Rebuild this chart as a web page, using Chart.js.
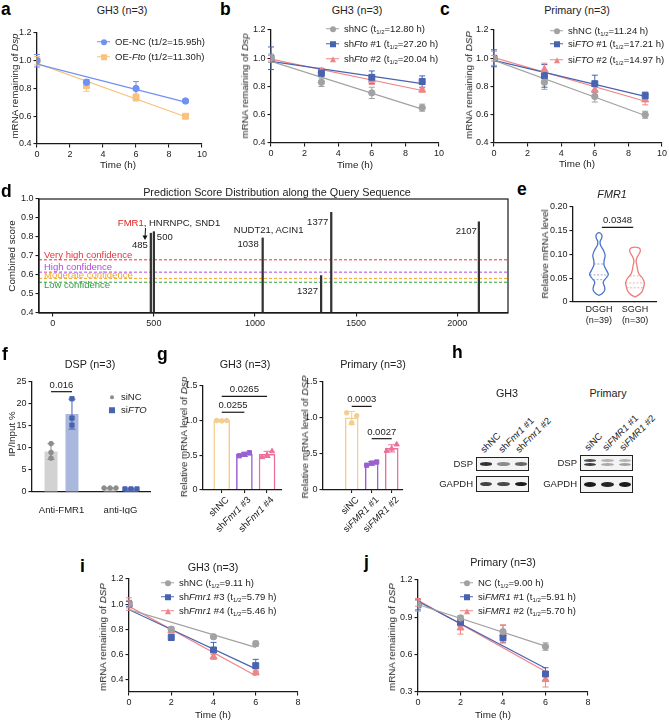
<!DOCTYPE html>
<html lang="en">
<head>
<meta charset="UTF-8">
<meta name="viewport" content="width=device-width, initial-scale=1.0">
<title>FMR1 and DSP mRNA decay</title>
<script src="https://cdn.jsdelivr.net/npm/chart.js"></script>
<style>
    body { margin: 0; background: #fff; }
    #fig { position: relative; width: 669px; height: 720px; overflow: hidden;
           font-family: 'Liberation Sans', Arial, sans-serif; color: #222; }
    #fig canvas { position: absolute; }
    .t { position: absolute; white-space: nowrap; line-height: 1; font-size: 9.5px; }
    .letter { font-weight: bold; font-size: 17.5px; color: #000; }
    .title { font-size: 10.8px; }
    .ax { font-size: 9.8px; }
    .t sub, .lg sub { font-size: 6px; vertical-align: -1.5px; line-height: 0; }
    .lg { position: absolute; display: flex; align-items: center; white-space: nowrap;
          font-size: 9.5px; line-height: 1; transform: translateY(-50%); }
    .sym { position: relative; width: 13px; height: 8px; margin-right: 5px; flex: none; }
    .sym .ln { position: absolute; left: 0; right: 0; top: 3.4px; height: 1.2px; }
    .sym .mk { position: absolute; left: 50%; top: 50%; transform: translate(-50%, -50%); }
    .mk.circle { width: 6px; height: 6px; border-radius: 50%; }
    .mk.small { width: 4px; height: 4px; }
    .mk.rect { width: 6px; height: 6px; }
    .mk.triangle { width: 0; height: 0; border-left: 3.6px solid transparent; border-right: 3.6px solid transparent;
                   border-bottom: 6.5px solid var(--c); background: none !important; }
    .blot { position: absolute; border: 1px solid #222; background: #f3f3f3; box-sizing: border-box; overflow: hidden; }
    .band { position: absolute; border-radius: 50%; filter: blur(0.7px); }
</style>
</head>
<body>
<div id="fig"></div>
<script>
    // ---------- data ----------
    // a-c: mRNA decay, time in h
    const timeABC = [0, 3, 6, 9];
    const aNC = [1.00, 0.845, 0.80, 0.71];
    const aNCErr = [0.045, 0.02, 0.05, 0.012];
    const aFto = [1.00, 0.82, 0.735, 0.60];
    const aFtoErr = [0.03, 0.04, 0.025, 0.01];

    const bNC = [1.00, 0.83, 0.755, 0.65];
    const bNCErr = [0.03, 0.03, 0.04, 0.025];
    const bFto1 = [1.00, 0.895, 0.865, 0.835];
    const bFto1Err = [0.08, 0.025, 0.045, 0.04];
    const bFto2 = [1.00, 0.91, 0.845, 0.775];
    const bFto2Err = [0.02, 0.02, 0.03, 0.015];

    const cNC = [1.00, 0.83, 0.73, 0.60];
    const cNCErr = [0.05, 0.05, 0.04, 0.025];
    const cFTO1 = [1.00, 0.875, 0.82, 0.735];
    const cFTO1Err = [0.06, 0.08, 0.06, 0.025];
    const cFTO2 = [1.00, 0.92, 0.775, 0.705];
    const cFTO2Err = [0.02, 0.045, 0.04, 0.035];

    const decayXTicks = [0, 2, 4, 6, 8, 10];
    const decayYTicks = [0.4, 0.6, 0.8, 1.0, 1.2];

    // d: prediction scores along the query sequence
    const dSites = [485, 500, 1038, 1327, 1377, 2107];
    const dScores = [0.82, 0.828, 0.795, 0.597, 0.93, 0.88];
    const dThresholds = [0.68, 0.615, 0.582, 0.562];
    const dThresholdNames = ['Very high confidence', 'High confidence', 'Moderate confidence', 'Low confidence'];
    const dXTicks = [0, 500, 1000, 1500, 2000];
    const dYTicks = [0.4, 0.5, 0.6, 0.7, 0.8, 0.9, 1.0];

    // e: violin profiles (level, relative density)
    const eGroups = ['DGGH', 'SGGH'];
    const eCounts = ['(n=39)', '(n=30)'];
    const dgghLevels = [0.014, 0.018, 0.025, 0.033, 0.042, 0.05, 0.058, 0.066, 0.077, 0.087, 0.098, 0.108, 0.119, 0.127, 0.134, 0.14, 0.144, 0.146];
    const dgghDensity = [0, 0.35, 0.62, 0.58, 0.45, 0.75, 1.0, 0.82, 0.55, 0.55, 0.66, 0.5, 0.18, 0.12, 0.28, 0.32, 0.2, 0];
    const dgghQuartiles = [0.047, 0.057, 0.08];
    const sgghLevels = [0.0105, 0.015, 0.022, 0.03, 0.04, 0.05, 0.058, 0.066, 0.075, 0.085, 0.093, 0.1, 0.106, 0.111, 0.114, 0.1155];
    const sgghDensity = [0, 0.4, 0.75, 0.9, 1.0, 0.8, 0.45, 0.3, 0.22, 0.12, 0.2, 0.4, 0.55, 0.55, 0.4, 0];
    const sgghQuartiles = [0.03, 0.04, 0.055];
    const eYTicks = [0, 0.05, 0.10, 0.15, 0.20];

    // f: RIP-qPCR
    const fCats = ['Anti-FMR1', 'anti-IgG'];
    const fNC = [9.2, 0.9];
    const fNCErr = [1.8, 0.05];
    const fNCReps = [[11.0, 9.0, 7.7], [0.9, 0.9, 0.9]];
    const fFTO = [17.7, 0.7];
    const fFTOErr = [3.4, 0.05];
    const fFTOReps = [[21.2, 16.8, 15.2], [0.7, 0.7, 0.7]];
    const fYTicks = [0, 5, 10, 15, 20, 25];

    // g: knockdown qPCR
    const gLeftCats = ['shNC', 'sh<i>Fmr1</i> #3', 'sh<i>Fmr1</i> #4'];
    const gLeft = [1.0, 0.51, 0.51];
    const gLeftErr = [0.01, 0.03, 0.045];
    const gLeftReps = [[1.0, 0.995, 1.0], [0.49, 0.51, 0.535], [0.47, 0.50, 0.555]];
    const gRightCats = ['siNC', 'si<i>FMR1</i> #1', 'si<i>FMR1</i> #2'];
    const gRight = [1.0, 0.365, 0.575];
    const gRightErr = [0.09, 0.025, 0.05];
    const gRightReps = [[1.07, 0.93, 1.03], [0.34, 0.37, 0.385], [0.54, 0.57, 0.63]];
    const gYTicks = [0, 0.5, 1.0, 1.5];

    // h: western blot band intensities per lane
    const hLanesGH3 = ['shNC', 'sh<i>Fmr1</i> #1', 'sh<i>Fmr1</i> #2'];
    const hLanesPri = ['siNC', 'si<i>FMR1</i> #1', 'si<i>FMR1</i> #2'];
    const hGH3Dsp = [0.85, 0.45, 0.62];
    const hGH3Gapdh = [0.78, 0.74, 0.95];
    const hPriDspUpper = [0.72, 0.28, 0.28];
    const hPriDspLower = [0.8, 0.32, 0.36];
    const hPriGapdh = [0.95, 0.9, 0.95];

    // i-j: Fmr1 knockdown decay
    const timeIJ = [0, 2, 4, 6];
    const iNC = [1.00, 0.80, 0.74, 0.685];
    const iNCErr = [0.03, 0.02, 0.012, 0.02];
    const iF3 = [1.00, 0.735, 0.635, 0.51];
    const iF3Err = [0.02, 0.025, 0.06, 0.05];
    const iF4 = [1.00, 0.79, 0.58, 0.455];
    const iF4Err = [0.05, 0.02, 0.02, 0.02];
    const jNC = [1.00, 0.895, 0.785, 0.665];
    const jNCErr = [0.05, 0.02, 0.05, 0.03];
    const jF1 = [1.00, 0.86, 0.735, 0.445];
    const jF1Err = [0.04, 0.03, 0.04, 0.05];
    const jF2 = [1.02, 0.815, 0.77, 0.40];
    const jF2Err = [0.03, 0.05, 0.07, 0.06];
    const ijXTicks = [0, 2, 4, 6, 8];
    const iYTicks = [0.4, 0.6, 0.8, 1.0, 1.2];
    const jYTicks = [0.3, 0.6, 0.9, 1.2];

    // ---------- style ----------
    const INK = '#1a1a1a';
    const GRAY = '#a2a2a2';
    const BLUE = '#4863b0';
    const PINK = '#f08585';
    const LBLUE = '#6f91f3';
    const ORANGE = '#f8c27f';
    const G_COLORS = ['#f5cd8f', '#9a5fd2', '#ef6f9a'];
    const D_COLORS = ['#e8323c', '#b04ae0', '#f5a623', '#30a040'];
    const FONT = "'Liberation Sans', Arial, sans-serif";

    Chart.defaults.font.family = FONT;
    Chart.defaults.font.size = 9;
    Chart.defaults.color = '#222';
    Chart.defaults.animation = false;
    Chart.defaults.plugins.legend.display = false;
    Chart.defaults.plugins.tooltip.enabled = false;

    const fig = document.getElementById('fig');
    const pick = (v, j) => Array.isArray(v) ? v[j] : v;

    // ---------- plugins ----------
    function drawErrors(chart, opts) {
        const ctx = chart.ctx, ys = chart.scales.y;
        chart.data.datasets.forEach((ds, i) => {
            if (!ds.errs) return;
            const meta = chart.getDatasetMeta(i);
            ctx.save();
            ctx.lineWidth = opts.width;
            meta.data.forEach((el, j) => {
                const e = ds.errs[j];
                if (!e) return;
                const d = ds.data[j];
                const v = typeof d === 'number' ? d : d.y;
                const y1 = ys.getPixelForValue(v + e), y2 = ys.getPixelForValue(v - e);
                const h = opts.cap / 2;
                ctx.strokeStyle = pick(ds.errColor || ds.borderColor, j);
                ctx.beginPath();
                ctx.moveTo(el.x, y1); ctx.lineTo(el.x, y2);
                ctx.moveTo(el.x - h, y1); ctx.lineTo(el.x + h, y1);
                ctx.moveTo(el.x - h, y2); ctx.lineTo(el.x + h, y2);
                ctx.stroke();
            });
            ctx.restore();
        });
    }
    const errorBars = {
        id: 'errorBars',
        defaults: { cap: 6, above: false, width: 1 },
        beforeDatasetsDraw(chart, args, opts) { if (!opts.above) drawErrors(chart, opts); },
        afterDatasetsDraw(chart, args, opts) { if (opts.above) drawErrors(chart, opts); }
    };

    const repDots = {
        id: 'repDots',
        afterDatasetsDraw(chart) {
            const ctx = chart.ctx, ys = chart.scales.y;
            chart.data.datasets.forEach((ds, i) => {
                if (!ds.reps) return;
                const meta = chart.getDatasetMeta(i);
                meta.data.forEach((el, j) => {
                    const spread = ds.spread ? ds.spread[j] : 0;
                    ds.reps[j].forEach((v, k) => {
                        ctx.save();
                        ctx.fillStyle = pick(ds.dotColor, j);
                        ctx.strokeStyle = pick(ds.dotColor, j);
                        const st = pick(ds.dotStyle, j);
                        Chart.helpers.drawPoint(ctx, { pointStyle: st, radius: st === 'circle' ? 2.3 : 3, rotation: 0, borderWidth: 0.5 },
                            el.x + (k - 1) * spread, ys.getPixelForValue(v));
                        ctx.restore();
                    });
                });
            });
        }
    };

    const brackets = {
        id: 'brackets',
        afterDraw(chart, args, opts) {
            if (!opts.items) return;
            const ctx = chart.ctx, ys = chart.scales.y, xs = chart.scales.x;
            const px = r => Array.isArray(r) ? chart.getDatasetMeta(r[0]).data[r[1]].x : xs.getPixelForValue(r);
            ctx.save();
            ctx.strokeStyle = INK; ctx.fillStyle = '#222'; ctx.lineWidth = 1.2;
            ctx.font = '9.5px ' + FONT;
            ctx.textAlign = 'center'; ctx.textBaseline = 'bottom';
            opts.items.forEach(b => {
                const x1 = px(b.from), x2 = px(b.to), y = ys.getPixelForValue(b.y);
                ctx.beginPath(); ctx.moveTo(x1, y); ctx.lineTo(x2, y); ctx.stroke();
                ctx.fillText(b.text, (x1 + x2) / 2, y - 2);
            });
            ctx.restore();
        }
    };

    const frame = {
        id: 'frame',
        afterDraw(chart, args, opts) {
            if (!opts.on) return;
            const a = chart.chartArea, ctx = chart.ctx;
            ctx.save(); ctx.strokeStyle = INK; ctx.lineWidth = 1.2;
            ctx.strokeRect(a.left, a.top, a.right - a.left, a.bottom - a.top);
            ctx.restore();
        }
    };

    function smoothPath(ctx, p) {
        ctx.moveTo(p[0].x, p[0].y);
        for (let i = 0; i < p.length - 1; i++) {
            const p0 = p[i - 1] || p[i], p1 = p[i], p2 = p[i + 1], p3 = p[i + 2] || p2;
            ctx.bezierCurveTo(p1.x + (p2.x - p0.x) / 6, p1.y + (p2.y - p0.y) / 6,
                              p2.x - (p3.x - p1.x) / 6, p2.y - (p3.y - p1.y) / 6, p2.x, p2.y);
        }
    }
    const violins = {
        id: 'violins',
        afterDatasetsDraw(chart, args, opts) {
            if (!opts.items) return;
            const ctx = chart.ctx, xs = chart.scales.x, ys = chart.scales.y;
            const unit = xs.getPixelForValue(1) - xs.getPixelForValue(0);
            opts.items.forEach(v => {
                const cx = xs.getPixelForValue(v.pos);
                const hw = d => d * unit * opts.widthFrac;
                const right = v.levels.map((lv, k) => ({ x: cx + hw(v.dens[k]), y: ys.getPixelForValue(lv) }));
                const left = v.levels.map((lv, k) => ({ x: cx - hw(v.dens[k]), y: ys.getPixelForValue(lv) })).reverse();
                ctx.save();
                ctx.strokeStyle = v.color; ctx.lineWidth = 1.3; ctx.lineJoin = 'round';
                ctx.beginPath();
                smoothPath(ctx, right.concat(left.slice(1)));
                ctx.closePath();
                ctx.stroke();
                ctx.setLineDash([2, 1.6]); ctx.lineWidth = 0.8; ctx.globalAlpha = 0.75;
                v.quart.forEach(q => {
                    let k = v.levels.findIndex(l => l >= q);
                    const t = (q - v.levels[k - 1]) / (v.levels[k] - v.levels[k - 1]);
                    const w = hw(v.dens[k - 1] + t * (v.dens[k] - v.dens[k - 1]));
                    const y = ys.getPixelForValue(q);
                    ctx.beginPath(); ctx.moveTo(cx - w, y); ctx.lineTo(cx + w, y); ctx.stroke();
                });
                ctx.restore();
            });
        }
    };
    Chart.register(errorBars, repDots, brackets, frame, violins);

    // ---------- helpers ----------
    const fmt1 = v => v.toFixed(1);
    const fmtInt = v => String(v);

    function axis(min, max, ticks, fmt, tickLen) {
        return {
            type: 'linear', min: min, max: max, offset: false,
            grid: { drawOnChartArea: false, drawTicks: true, tickLength: tickLen === undefined ? 3.5 : tickLen,
                    color: INK, lineWidth: 1.1, offset: false },
            border: { display: true, color: INK, width: 1.3 },
            ticks: { padding: 2, color: '#222', font: { size: 9 }, callback: fmt, autoSkip: false, maxRotation: 0 },
            afterBuildTicks: s => { s.ticks = ticks.map(v => ({ value: v })); }
        };
    }

    // plot = [left, top, right, bottom] of the plot area on the page, m = margins [l, t, r, b]
    function makeChart(plot, m, config) {
        const cv = document.createElement('canvas');
        const left = Math.round(plot[0] - m[0]), top = Math.round(plot[1] - m[1]);
        const w = Math.round(plot[2] + m[2]) - left, h = Math.round(plot[3] + m[3]) - top;
        cv.width = w; cv.height = h;
        Object.assign(cv.style, { left: left + 'px', top: top + 'px', width: w + 'px', height: h + 'px' });
        fig.appendChild(cv);
        const o = config.options;
        o.responsive = false;
        o.events = [];
        o.layout = { padding: { left: 0, top: Math.round(plot[1]) - top, right: left + w - Math.round(plot[2]), bottom: 0 } };
        o.scales.x.afterFit = s => { s.height = top + h - Math.round(plot[3]); };
        o.scales.y.afterFit = s => { s.width = Math.round(plot[0]) - left; };
        const chart = new Chart(cv, config);
        chart.$left = left; chart.$top = top;
        return chart;
    }

    function regress(xs, ys) {
        const n = xs.length;
        const mx = xs.reduce((a, b) => a + b, 0) / n, my = ys.reduce((a, b) => a + b, 0) / n;
        let sxy = 0, sxx = 0;
        xs.forEach((x, i) => { sxy += (x - mx) * (ys[i] - my); sxx += (x - mx) * (x - mx); });
        const k = sxy / sxx;
        return [my - k * mx, k];
    }

    const RADIUS = { circle: 3.2, rect: 4.2, triangle: 4 };
    function decaySets(times, list) {
        const sets = [];
        list.forEach(s => {
            sets.push({
                type: 'scatter', data: times.map((t, i) => ({ x: t, y: s.vals[i] })), errs: s.errs,
                borderColor: s.color, backgroundColor: s.color, pointStyle: s.shape,
                pointRadius: RADIUS[s.shape], borderWidth: 1, order: 0
            });
            const [b, k] = regress(times, s.vals);
            const t0 = times[0], t1 = times[times.length - 1];
            sets.push({
                type: 'line', data: [{ x: t0, y: b + k * t0 }, { x: t1, y: b + k * t1 }],
                borderColor: s.color, borderWidth: 1.2, pointRadius: 0, order: 1
            });
        });
        return sets;
    }

    function decayChart(plot, m, times, series, xMax, xTicks, yMin, yTicks) {
        return makeChart(plot, m, {
            type: 'scatter',
            data: { datasets: decaySets(times, series) },
            options: {
                scales: { x: axis(0, xMax, xTicks, fmtInt), y: axis(yMin, 1.2, yTicks, fmt1) },
                plugins: { errorBars: { cap: 6 } }
            }
        });
    }

    function addText(html, x, y, cls, anchor, rot, origin) {
        const el = document.createElement('div');
        el.className = 't ' + (cls || '');
        el.innerHTML = html;
        el.style.left = x + 'px';
        el.style.top = y + 'px';
        const tx = anchor === 'l' ? '0' : anchor === 'r' ? '-100%' : '-50%';
        el.style.transform = 'translate(' + tx + ', -50%)' + (rot ? ' rotate(' + rot + 'deg)' : '');
        if (origin) el.style.transformOrigin = origin;
        fig.appendChild(el);
        return el;
    }

    function legend(x, ys, items) {
        items.forEach((it, k) => {
            const row = document.createElement('div');
            row.className = 'lg';
            row.style.left = x + 'px';
            row.style.top = ys[k] + 'px';
            const line = it.noLine ? '' : '<span class="ln" style="background:' + it.color + '"></span>';
            row.innerHTML = '<span class="sym" style="' + (it.noLine ? 'width:6px;margin-right:6px' : '') + '">' + line +
                '<span class="mk ' + it.shape + '" style="background:' + it.color + ';--c:' + it.color + '"></span></span>' +
                '<span>' + it.label + '</span>';
            fig.appendChild(row);
        });
    }

    // ---------- a, b, c ----------
    decayChart([37, 33, 202, 144], [37, 8, 12, 18], timeABC, [
        { vals: aNC, errs: aNCErr, color: LBLUE, shape: 'circle' },
        { vals: aFto, errs: aFtoErr, color: ORANGE, shape: 'rect' }
    ], 10, decayXTicks, 0.4, decayYTicks);

    decayChart([271, 30, 439, 143], [30, 8, 14, 18], timeABC, [
        { vals: bNC, errs: bNCErr, color: GRAY, shape: 'circle' },
        { vals: bFto1, errs: bFto1Err, color: BLUE, shape: 'rect' },
        { vals: bFto2, errs: bFto2Err, color: PINK, shape: 'triangle' }
    ], 10, decayXTicks, 0.4, decayYTicks);

    decayChart([494, 30, 662, 143], [30, 8, 7, 18], timeABC, [
        { vals: cNC, errs: cNCErr, color: GRAY, shape: 'circle' },
        { vals: cFTO1, errs: cFTO1Err, color: BLUE, shape: 'rect' },
        { vals: cFTO2, errs: cFTO2Err, color: PINK, shape: 'triangle' }
    ], 10, decayXTicks, 0.4, decayYTicks);

    legend(97, [42, 57], [
        { color: LBLUE, shape: 'circle', label: 'OE-NC (t1/2=15.95h)' },
        { color: ORANGE, shape: 'rect', label: 'OE-<i>Fto</i> (t1/2=11.30h)' }
    ]);
    legend(326, [29, 44, 59], [
        { color: GRAY, shape: 'circle', label: 'shNC (t<sub>1/2</sub>=12.80 h)' },
        { color: BLUE, shape: 'rect', label: 'sh<i>Fto</i> #1 (t<sub>1/2</sub>=27.20 h)' },
        { color: PINK, shape: 'triangle', label: 'sh<i>Fto</i> #2 (t<sub>1/2</sub>=20.04 h)' }
    ]);
    legend(550, [31, 44, 60], [
        { color: GRAY, shape: 'circle', label: 'shNC (t<sub>1/2</sub>=11.24 h)' },
        { color: BLUE, shape: 'rect', label: 'si<i>FTO</i> #1 (t<sub>1/2</sub>=17.21 h)' },
        { color: PINK, shape: 'triangle', label: 'si<i>FTO</i> #2 (t<sub>1/2</sub>=14.97 h)' }
    ]);

    // ---------- d ----------
    const dXMin = -68, dXMax = 2251;
    const chD = makeChart([39, 199, 508, 313], [30, 8, 8, 18], {
        type: 'bar',
        data: {
            datasets: [
                { type: 'bar', data: dSites.map((s, i) => ({ x: s, y: dScores[i] })), backgroundColor: '#333',
                  barThickness: 1.6, base: 0.4, order: 0 }
            ].concat(dThresholds.map((t, k) => ({
                type: 'line', data: [{ x: dXMin, y: t }, { x: dXMax, y: t }], borderColor: D_COLORS[k],
                borderWidth: 1, borderDash: [3, 2], pointRadius: 0, order: 1
            })))
        },
        options: {
            scales: { x: axis(dXMin, dXMax, dXTicks, fmtInt), y: axis(0.4, 1.0, dYTicks, fmt1) },
            plugins: { frame: { on: true } }
        }
    });
    // site labels follow the spikes
    const siteX = i => chD.$left + chD.scales.x.getPixelForValue(dSites[i]);
    addText('<span style="color:#e02020">FMR1</span>, HNRNPC, SND1', siteX(0) - 33, 223, '', 'l');
    addText(String(dSites[0]), siteX(0) - 3, 245, '', 'r');
    addText(String(dSites[1]), siteX(1) + 3, 237, '', 'l');
    addText('NUDT21, ACIN1', siteX(2) + 6, 230, '', 'c');
    addText(String(dSites[2]), siteX(2) - 4, 244, '', 'r');
    addText(String(dSites[3]), siteX(3) - 3, 291, '', 'r');
    addText(String(dSites[4]), siteX(4) - 3, 222, '', 'r');
    addText(String(dSites[5]), siteX(5) - 2, 231, '', 'r');
    [255, 267, 275, 285].forEach((y, k) =>
        addText(dThresholdNames[k], 44, y, '', 'l').style.color = D_COLORS[k]);
    const arrow = document.createElement('div');
    arrow.style.cssText = 'position:absolute;top:227px;width:8px;height:13px;left:' + (siteX(0) - 10) + 'px';
    arrow.innerHTML = '<svg width="8" height="13" viewBox="0 0 8 13"><line x1="4.5" y1="0" x2="4" y2="10" stroke="#111" stroke-width="1"/>' +
        '<path d="M1.5 7.5 L4 12 L6.5 7.5 Z" fill="#111"/></svg>';
    fig.appendChild(arrow);

    // ---------- e ----------
    makeChart([573, 207, 657, 302], [28, 8, 8, 26], {
        type: 'scatter',
        data: { datasets: [] },
        options: {
            scales: {
                x: axis(-0.72, 1.61, [0, 1], v => [eGroups[v], eCounts[v]], 0),
                y: axis(0, 0.2, eYTicks, v => v === 0 ? '0' : v.toFixed(2))
            },
            plugins: {
                violins: {
                    widthFrac: 0.26,
                    items: [
                        { pos: 0, levels: dgghLevels, dens: dgghDensity, quart: dgghQuartiles, color: '#4a74c9' },
                        { pos: 1, levels: sgghLevels, dens: sgghDensity, quart: sgghQuartiles, color: '#f07c7c' }
                    ]
                },
                brackets: { items: [{ from: 0.08, to: 0.95, y: 0.157, text: '0.0348' }] }
            }
        }
    });

    // ---------- f ----------
    makeChart([32, 382, 150, 492], [22, 8, 8, 22], {
        type: 'bar',
        data: {
            labels: fCats,
            datasets: [
                { data: fNC, backgroundColor: '#d2d2d2', errs: fNCErr, errColor: '#8c8c8c', reps: fNCReps,
                  dotColor: '#8c8c8c', dotStyle: 'circle', spread: [0, 6], categoryPercentage: 0.71, barPercentage: 0.62 },
                { data: fFTO, backgroundColor: '#aab8de', errs: fFTOErr, errColor: BLUE, reps: fFTOReps,
                  dotColor: BLUE, dotStyle: 'rect', spread: [0, 6], categoryPercentage: 0.71, barPercentage: 0.62 }
            ]
        },
        options: {
            scales: {
                x: { type: 'category', offset: true, grid: { display: false }, border: { display: true, color: INK, width: 1.3 },
                     ticks: { padding: 5, font: { size: 9.5 }, color: '#222' } },
                y: axis(0, 25, fYTicks, fmtInt)
            },
            plugins: {
                errorBars: { cap: 7, above: true },
                brackets: { items: [{ from: [0, 0], to: [1, 0], y: 22.8, text: '0.016' }] }
            }
        }
    });
    legend(109, [397, 410], [
        { color: '#8c8c8c', shape: 'circle small', label: 'siNC', noLine: true },
        { color: BLUE, shape: 'rect small', label: 'si<i>FTO</i>', noLine: true }
    ]);

    // ---------- g ----------
    function gChart(plot, xMin, xMax, vals, errs, reps, items, thick) {
        return makeChart(plot, [16, 10, 6, 4], {
            type: 'bar',
            data: {
                datasets: [{
                    data: vals.map((v, i) => ({ x: i, y: v })), backgroundColor: '#fff', borderColor: G_COLORS,
                    borderWidth: 1.5, barThickness: thick, errs: errs, errColor: G_COLORS, reps: reps,
                    dotColor: G_COLORS, dotStyle: ['circle', 'rect', 'triangle'], spread: [5, 5, 5]
                }]
            },
            options: {
                scales: {
                    x: axis(xMin, xMax, [0, 1, 2], () => ''),
                    y: axis(0, 1.5, gYTicks, v => v === 0 ? '0' : v.toFixed(1))
                },
                plugins: { errorBars: { cap: 7, above: true }, brackets: { items: items } }
            }
        });
    }
    const gL = gChart([203, 386, 282, 493], -0.826, 2.66, gLeft, gLeftErr, gLeftReps, [
        { from: [0, 0], to: [0, 1], y: 1.12, text: '0.0255' },
        { from: [0, 0], to: [0, 2], y: 1.35, text: '0.0265' }
    ], 16);
    const gR = gChart([323, 382, 403, 493], -1.435, 2.565, gRight, gRightErr, gRightReps, [
        { from: [0, 0], to: [0, 1], y: 1.16, text: '0.0003' },
        { from: [0, 1], to: [0, 2], y: 0.71, text: '0.0027' }
    ], 13);
    [[gL, gLeftCats], [gR, gRightCats]].forEach(([ch, cats]) => {
        cats.forEach((c, i) => {
            const x = ch.$left + ch.scales.x.getPixelForValue(i);
            const y = ch.$top + ch.chartArea.bottom;
            addText(c, x + 5, y + 8, '', 'r', -45, '100% 50%');
        });
    });

    // ---------- h ----------
    function blot(x, y, w, h, rows) {
        const box = document.createElement('div');
        box.className = 'blot';
        Object.assign(box.style, { left: x + 'px', top: y + 'px', width: w + 'px', height: h + 'px' });
        const lw = w / 3;
        rows.forEach(r => {
            r.vals.forEach((a, k) => {
                const b = document.createElement('div');
                b.className = 'band';
                Object.assign(b.style, {
                    left: (k * lw + 2.5) + 'px', width: (lw - 5) + 'px',
                    top: (r.pos * h - r.th / 2 - 1) + 'px', height: r.th + 'px',
                    background: 'rgba(15,15,15,' + a + ')'
                });
                box.appendChild(b);
            });
        });
        fig.appendChild(box);
    }
    blot(476, 457, 53, 14, [{ vals: hGH3Dsp, pos: 0.5, th: 3.6 }]);
    blot(476, 476, 53, 16, [{ vals: hGH3Gapdh, pos: 0.5, th: 4.2 }]);
    blot(580, 455, 53, 16, [{ vals: hPriDspUpper, pos: 0.34, th: 2.8 }, { vals: hPriDspLower, pos: 0.62, th: 3 }]);
    blot(580, 476, 53, 17, [{ vals: hPriGapdh, pos: 0.5, th: 5.2 }]);
    addText('DSP', 473, 464, '', 'r');
    addText('GAPDH', 473, 484, '', 'r');
    addText('DSP', 577, 463, '', 'r');
    addText('GAPDH', 577, 484, '', 'r');
    hLanesGH3.forEach((l, k) => addText(l, 476 + (k + 0.5) * 53 / 3 - 3, 451, '', 'l', -45, '0% 50%'));
    hLanesPri.forEach((l, k) => addText(l, 580 + (k + 0.5) * 53 / 3 - 3, 449, '', 'l', -45, '0% 50%'));

    // ---------- i, j ----------
    decayChart([129, 579, 298, 692], [26, 8, 10, 18], timeIJ, [
        { vals: iNC, errs: iNCErr, color: GRAY, shape: 'circle' },
        { vals: iF3, errs: iF3Err, color: BLUE, shape: 'rect' },
        { vals: iF4, errs: iF4Err, color: PINK, shape: 'triangle' }
    ], 8, ijXTicks, 0.3, iYTicks);
    decayChart([418, 580, 588, 692], [26, 8, 10, 18], timeIJ, [
        { vals: jNC, errs: jNCErr, color: GRAY, shape: 'circle' },
        { vals: jF1, errs: jF1Err, color: BLUE, shape: 'rect' },
        { vals: jF2, errs: jF2Err, color: PINK, shape: 'triangle' }
    ], 8, ijXTicks, 0.3, jYTicks);
    legend(161, [583, 597, 611], [
        { color: GRAY, shape: 'circle', label: 'shNC (t<sub>1/2</sub>=9.11 h)' },
        { color: BLUE, shape: 'rect', label: 'sh<i>Fmr1</i> #3 (t<sub>1/2</sub>=5.79 h)' },
        { color: PINK, shape: 'triangle', label: 'sh<i>Fmr1</i> #4 (t<sub>1/2</sub>=5.46 h)' }
    ]);
    legend(460, [583, 597, 611], [
        { color: GRAY, shape: 'circle', label: 'NC (t<sub>1/2</sub>=9.00 h)' },
        { color: BLUE, shape: 'rect', label: 'si<i>FMR1</i> #1 (t<sub>1/2</sub>=5.91 h)' },
        { color: PINK, shape: 'triangle', label: 'si<i>FMR1</i> #2 (t<sub>1/2</sub>=5.70 h)' }
    ]);

    // ---------- texts ----------
    [['a', 1, 10], ['b', 220, 10], ['c', 440, 10], ['d', 1, 192], ['e', 517, 190],
     ['f', 2, 355], ['g', 157, 355], ['h', 452, 353], ['i', 80, 567], ['j', 364, 563]]
        .forEach(([s, x, y]) => addText(s, x, y, 'letter', 'l'));

    [['GH3 (n=3)', 122, 10], ['GH3 (n=3)', 357, 10], ['Primary (n=3)', 577, 10],
     ['Prediction Score Distribution along the Query Sequence', 277, 192], ['<i>FMR1</i>', 612, 194],
     ['DSP (n=3)', 90, 364], ['GH3 (n=3)', 245, 364], ['Primary (n=3)', 373, 364],
     ['GH3', 507, 393], ['Primary', 608, 393], ['GH3 (n=3)', 213, 567], ['Primary (n=3)', 503, 562]]
        .forEach(([s, x, y]) => addText(s, x, y, 'title', 'c'));

    [['mRNA remaining of <i>Dsp</i>', 15, 86], ['mRNA remaining of <i>Dsp</i>', 245, 86],
     ['mRNA remaining of <i>DSP</i>', 469, 85], ['Combined score', 12, 256], ['Relative mRNA level', 545, 254],
     ['IP/Input %', 12, 434], ['Relative mRNA level of <i>Dsp</i>', 184, 437],
     ['Relative mRNA level of <i>DSP</i>', 305, 437], ['mRNA remaining of <i>DSP</i>', 103, 637],
     ['mRNA remaining of <i>DSP</i>', 392, 637]]
        .forEach(([s, x, y]) => addText(s, x, y, 'ax', 'c', -90));

    [['Time (h)', 118, 165], ['Time (h)', 355, 165], ['Time (h)', 577, 164], ['Time (h)', 213, 715], ['Time (h)', 493, 715]]
        .forEach(([s, x, y]) => addText(s, x, y, 'ax', 'c'));
</script>
</body>
</html>
